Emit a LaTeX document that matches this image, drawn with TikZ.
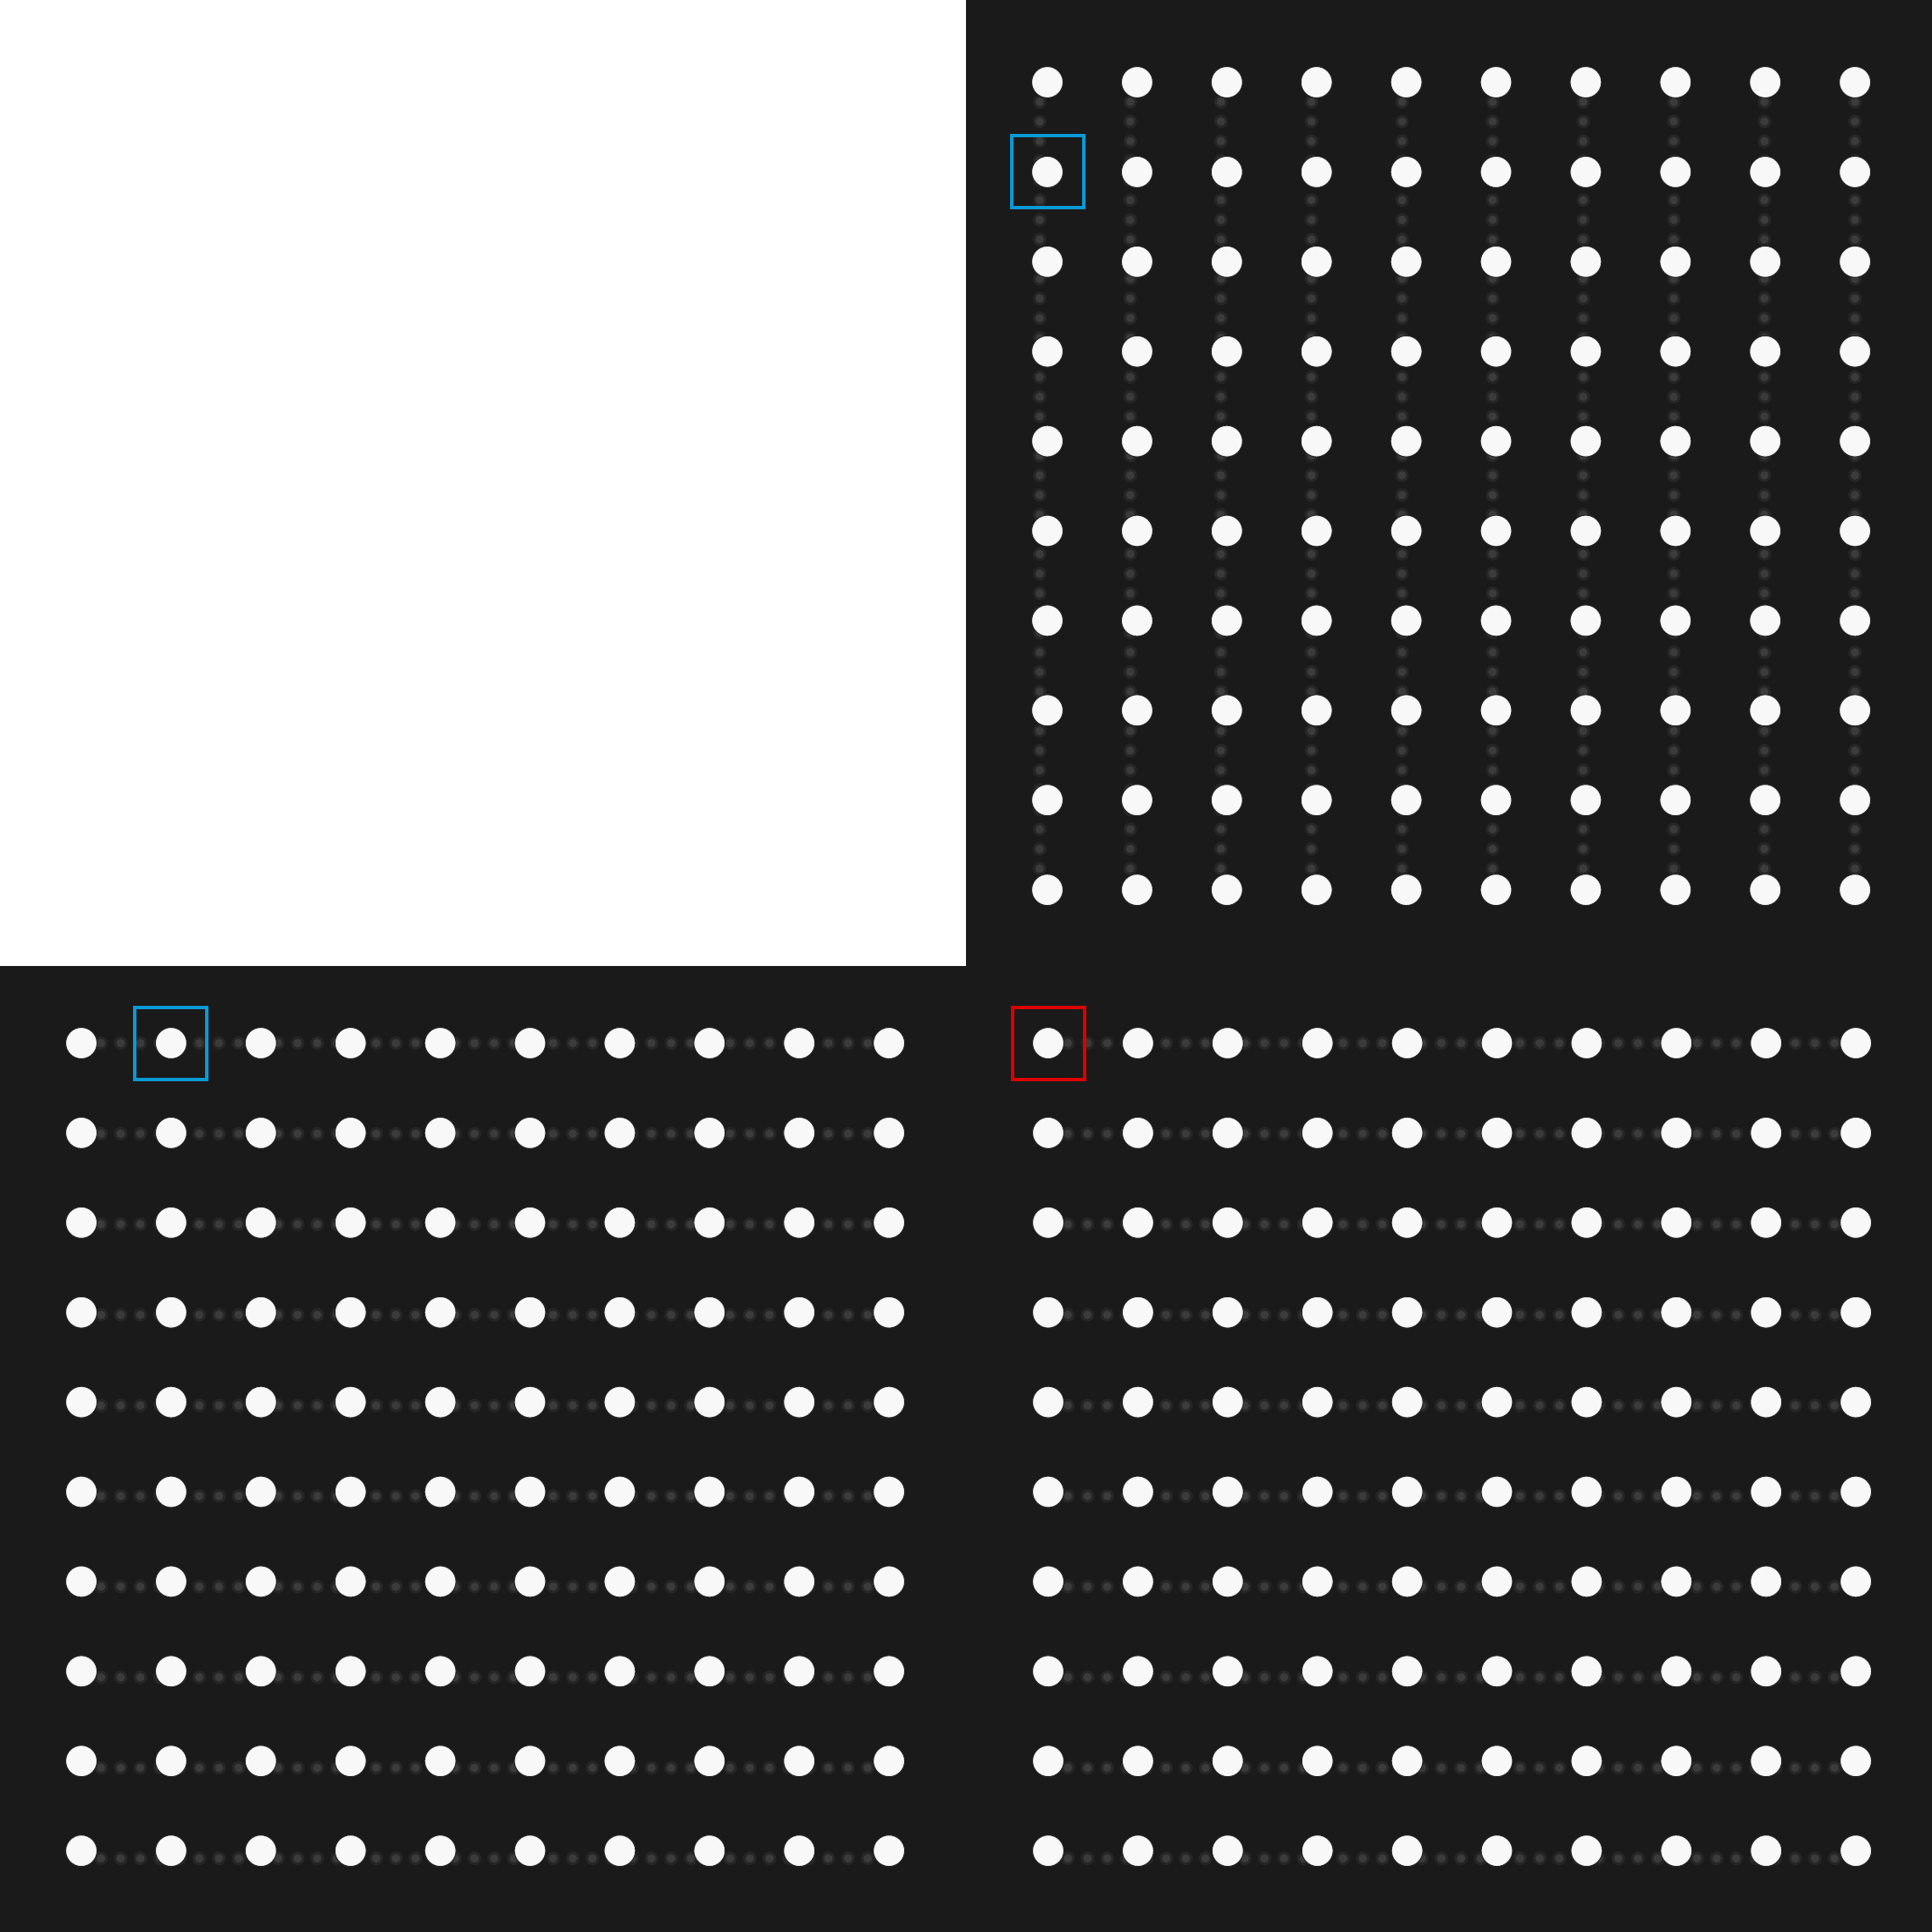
\documentclass[tikz,border=0pt]{standalone}
\usepackage{xcolor}
\definecolor{panelbg}{HTML}{1A1A1A}
\definecolor{dotwhite}{HTML}{F8F8F8}
\definecolor{trailgray}{HTML}{3B3B3B}
\definecolor{trailhalo}{HTML}{262626}
\definecolor{pickblue}{HTML}{0A9AD6}
\definecolor{pickred}{HTML}{DC0000}
\usepackage{tikz}
\usetikzlibrary{positioning}
\pgfdeclarelayer{bg}
\pgfdeclarelayer{trails}
\pgfsetlayers{bg,trails,main}

\begin{document}
\begin{tikzpicture}[
  x=1cm,y=-1cm,
  dt/.style={circle,fill=dotwhite,draw=black!85,line width=0.3pt,minimum size=3.7mm,inner sep=0pt},
  trail/.style={draw=trailgray,line width=1mm,line cap=round,dash pattern=on 0pt off 2.32mm},
  halo/.style={draw=trailhalo,line width=1.6mm,line cap=round,dash pattern=on 0pt off 2.32mm},
  sel/.style={rectangle,draw=#1,line width=0.4mm,minimum size=8.5mm,inner sep=0pt}
]
\useasboundingbox (0,0) rectangle (22.8,22.8);
\begin{pgfonlayer}{bg}
  \fill[panelbg] (0,0) rectangle (22.8,22.8);
  \fill[white] (0,0) rectangle (11.4,11.4);
\end{pgfonlayer}

% the three grids
\foreach \c in {1,...,10}
  \foreach \r in {1,...,10}{
    \node[dt] (tr-\c-\r) at ({12.36+1.059*(\c-1)},{0.97+1.059*(\r-1)}) {};
    \node[dt] (bl-\c-\r) at ({0.96+1.059*(\c-1)},{12.31+1.059*(\r-1)}) {};
    \node[dt] (br-\c-\r) at ({12.37+1.059*(\c-1)},{12.31+1.059*(\r-1)}) {};
  }

% faint trails: columns top right, rows at the bottom
\begin{pgfonlayer}{trails}
\foreach \c [evaluate=\c as \dx using (\c-10)*0.1] in {1,...,10}{
  \draw[halo] ([xshift=\dx mm]tr-\c-1.center) -- ([xshift=\dx mm]tr-\c-10.center);
  \draw[trail] ([xshift=\dx mm]tr-\c-1.center) -- ([xshift=\dx mm]tr-\c-10.center);
}
\foreach \r [evaluate=\r as \dy using (1-\r)*0.1] in {1,...,10}{
  \draw[halo] ([yshift=\dy mm]bl-1-\r.center) -- ([yshift=\dy mm]bl-10-\r.center);
  \draw[trail] ([yshift=\dy mm]bl-1-\r.center) -- ([yshift=\dy mm]bl-10-\r.center);
  \draw[halo] ([yshift=\dy mm]br-1-\r.center) -- ([yshift=\dy mm]br-10-\r.center);
  \draw[trail] ([yshift=\dy mm]br-1-\r.center) -- ([yshift=\dy mm]br-10-\r.center);
}
\end{pgfonlayer}

\node[sel=pickblue] (pick-tr) at (tr-1-2) {};
\node[sel=pickblue] (pick-bl) at (bl-2-1) {};
\node[sel=pickred] (pick-br) at (br-1-1) {};
\end{tikzpicture}
\end{document}
